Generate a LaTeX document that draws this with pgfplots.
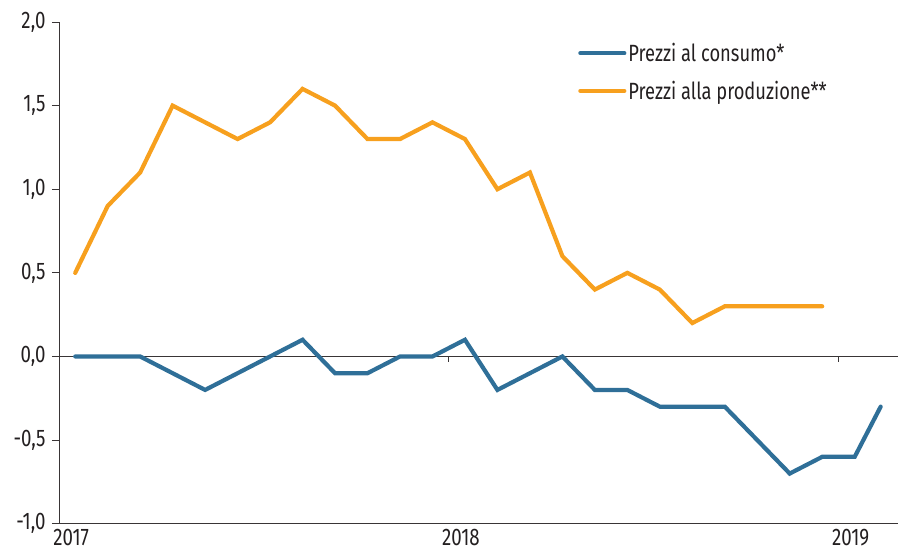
\documentclass[border=0pt]{standalone}
\usepackage{fontspec}
\setmainfont{Fira Sans}[FakeStretch=0.78]
\usepackage{pgfplots}
\pgfplotsset{compat=1.18}
\definecolor{cblue}{HTML}{2F6F98}
\definecolor{corange}{HTML}{F7A01E}
\definecolor{txt}{HTML}{231F20}
\begin{document}
\begin{tikzpicture}
\path (0,0) rectangle (898bp,560bp);
\begin{axis}[
  at={(59bp,36bp)}, anchor=south west,
  scale only axis, width=839bp, height=502bp,
  xmin=-0.5, xmax=25.32, ymin=-1, ymax=2,
  axis x line=bottom, axis y line=left,
  axis line style={-, draw=txt!90, line width=0.9bp},
  xtick={0,12,24}, xticklabels={2017,2018,2019},
  x tick label style={yshift=5bp, xshift=-4bp},
  major x tick style={draw=none},
  ytick={-1,-0.5,0,0.5,1,1.5,2},
  y tick label style={xshift=-3bp, /pgf/number format/.cd, fixed, fixed zerofill, precision=1, use comma, assume math mode=true},
  major y tick style={draw=txt!90, line width=0.9bp},
  major tick length=7bp,
  tick align=outside,
  tick label style={font=\fontsize{24bp}{28bp}\selectfont, text=txt},
  legend style={draw=none, fill=none, at={(0.619,0.962)}, anchor=north west,
    font=\fontsize{23.5bp}{27bp}\selectfont, text=txt, row sep=14bp, inner sep=0pt,
    /tikz/every even column/.append style={column sep=8bp}},
  legend cell align=left,
  legend image code/.code={\draw[#1] (0bp,0bp) -- (44bp,0bp);},
  clip=false,
]
\draw[txt!90, line width=0.9bp] (axis cs:-0.5,0) -- (axis cs:25.32,0);
\draw[txt!90, line width=0.9bp] (axis cs:11.5,0) -- ++(0pt,-6bp);
\draw[txt!90, line width=0.9bp] (axis cs:23.5,0) -- ++(0pt,-6bp);
\addplot[cblue, line width=4.2bp, line cap=round] coordinates {
(0,0) (1,0) (2,0) (3,-0.1) (4,-0.2) (5,-0.1) (6,0) (7,0.1) (8,-0.1) (9,-0.1)
(10,0) (11,0) (12,0.1) (13,-0.2) (14,-0.1) (15,0) (16,-0.2) (17,-0.2) (18,-0.3)
(19,-0.3) (20,-0.3) (21,-0.5) (22,-0.7) (23,-0.6) (24,-0.6) (24.8,-0.3)};
\addlegendentry{Prezzi al consumo*}
\addplot[corange, line width=4.2bp, line cap=round] coordinates {
(0,0.5) (1,0.9) (2,1.1) (3,1.5) (4,1.4) (5,1.3) (6,1.4) (7,1.6) (8,1.5) (9,1.3)
(10,1.3) (11,1.4) (12,1.3) (13,1.0) (14,1.1) (15,0.6) (16,0.4) (17,0.5) (18,0.4)
(19,0.2) (20,0.3) (21,0.3) (22,0.3) (23,0.3)};
\addlegendentry{Prezzi alla produzione**}
\end{axis}
\end{tikzpicture}
\end{document}
